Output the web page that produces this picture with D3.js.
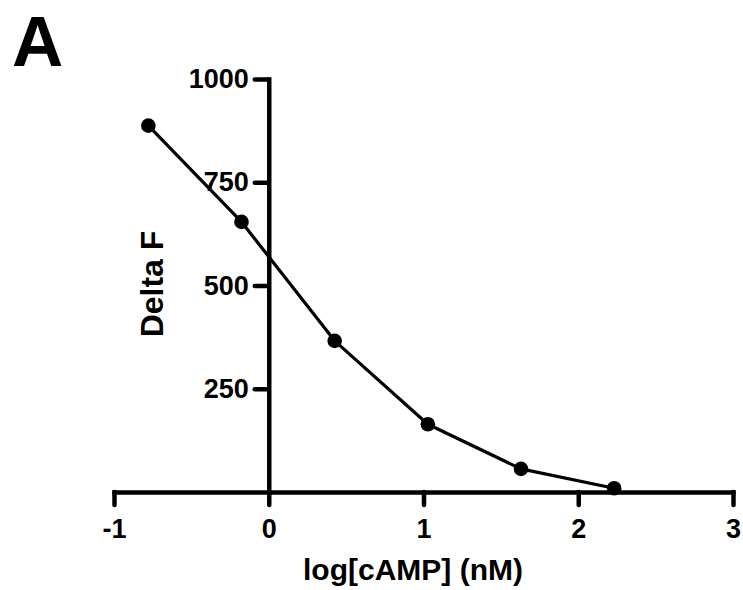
<!DOCTYPE html>
<html>
<head>
<meta charset="utf-8">
<script src="https://cdn.jsdelivr.net/npm/d3@7"></script>
<style>
  html, body { margin: 0; padding: 0; background: #fff; }
  svg { display: block; }
  text { font-family: "Liberation Sans", Arial, Helvetica, sans-serif; font-weight: bold; fill: #000; }
</style>
</head>
<body>
<svg id="chart" width="743" height="590"></svg>
<script>
// cAMP concentrations (log10 nM) and measured fluorescence change
const logConc = [-0.778, -0.176, 0.426, 1.028, 1.630, 2.232];
const deltaF = [887, 654, 366, 164, 56, 9];
const xTicks = [-1, 0, 1, 2, 3];
const yTicks = [250, 500, 750, 1000];

const svg = d3.select("#chart");

const x = d3.scaleLinear().domain([-1, 3]).range([114, 733]);
const y = d3.scaleLinear().domain([0, 1000]).range([492, 79]);

const axisWidth = 4.5;
const plainNumber = d => String(d);

// X axis placed at y = 0, crossing the Y axis at x = 0
const gx = svg.append("g")
  .attr("transform", `translate(0,${y(0)})`)
  .call(d3.axisBottom(x).tickValues(xTicks).tickFormat(plainNumber)
    .tickSize(13).tickSizeOuter(0).tickPadding(14));

// Y axis placed at x = 0
const gy = svg.append("g")
  .attr("transform", `translate(${x(0)},0)`)
  .call(d3.axisLeft(y).tickValues(yTicks).tickFormat(plainNumber)
    .tickSize(14).tickSizeOuter(0).tickPadding(6));

[gx, gy].forEach(g => {
  g.select(".domain").attr("stroke", "#000").attr("stroke-width", axisWidth).attr("stroke-linecap", "square");
  g.selectAll(".tick line").attr("stroke", "#000").attr("stroke-width", axisWidth).attr("stroke-linecap", "round");
  g.selectAll(".tick text").attr("font-size", 27).attr("font-weight", "bold")
    .attr("font-family", "'Liberation Sans', Arial, sans-serif").attr("fill", "#000");
});
gx.selectAll(".tick text").attr("dy", "0.71em");

// Connecting line and data points
const line = d3.line().x((d, i) => x(logConc[i])).y(d => y(d));
svg.append("path")
  .datum(deltaF)
  .attr("d", line)
  .attr("fill", "none")
  .attr("stroke", "#000")
  .attr("stroke-width", 3.2)
  .attr("stroke-linejoin", "round");

svg.append("g").selectAll("circle")
  .data(deltaF)
  .join("circle")
  .attr("cx", (d, i) => x(logConc[i]))
  .attr("cy", d => y(d))
  .attr("r", 7.3)
  .attr("fill", "#000");

// Axis titles
svg.append("text")
  .attr("x", 413).attr("y", 580)
  .attr("text-anchor", "middle")
  .attr("font-size", 30)
  .text("log[cAMP] (nM)");

svg.append("text")
  .attr("transform", "translate(163,284) rotate(-90)")
  .attr("text-anchor", "middle")
  .attr("font-size", 32)
  .text("Delta F");

// Panel letter
svg.append("text")
  .attr("x", 12).attr("y", 66)
  .attr("font-size", 71)
  .text("A");
</script>
</body>
</html>
